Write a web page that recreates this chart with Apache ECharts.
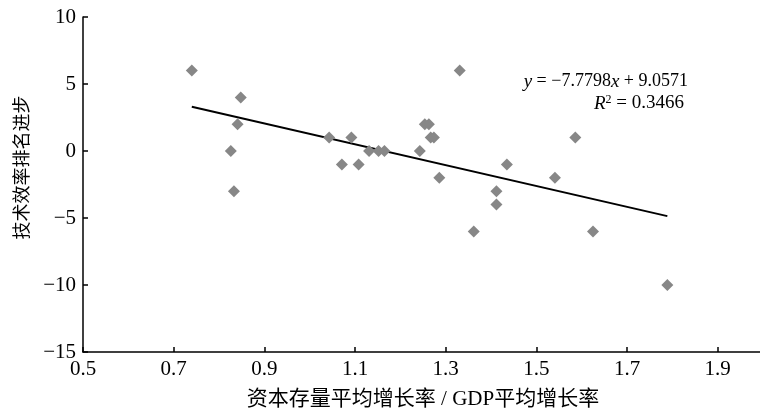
<!DOCTYPE html>
<html>
<head>
<meta charset="utf-8">
<script src="https://cdn.jsdelivr.net/npm/echarts@6/dist/echarts.min.js"></script>
<style>
  html, body { margin: 0; padding: 0; background: #fff; }
  #main { width: 760px; height: 411px; }
</style>
</head>
<body>
<div id="main"></div>
<script>
// 资本存量平均增长率 / GDP平均增长率
var ratioX = [0.740, 0.848, 0.841, 0.826, 0.833, 1.043, 1.092, 1.071, 1.108, 1.131,
              1.152, 1.165, 1.243, 1.254, 1.263, 1.267, 1.274, 1.286, 1.331, 1.362,
              1.412, 1.412, 1.435, 1.541, 1.586, 1.625, 1.789];
// 技术效率排名进步
var rankUp = [6, 4, 2, 0, -3, 1, 1, -1, -1, 0,
              0, 0, 0, 2, 2, 1, 1, -2, 6, -6,
              -3, -4, -1, -2, 1, -6, -10];
// 趋势线 y = a*x + b
var slope = -7.7798;
var intercept = 9.0571;
var r2 = 0.3466;

(function () {
    var myChart = echarts.init(document.getElementById('main'));
    var pts = ratioX.map(function (x, i) { return [x, rankUp[i]]; });
    var xMin = Math.min.apply(null, ratioX);
    var xMax = Math.max.apply(null, ratioX);
    var trend = [[xMin, slope * xMin + intercept], [xMax, slope * xMax + intercept]];
    var serif = '"Liberation Serif", "Times New Roman", serif';
    var cjk = '"Liberation Serif", "Noto Sans CJK SC", serif';

    myChart.setOption({
        animation: false,
        grid: { left: 83, right: -3, top: 17, bottom: 59, outerBoundsMode: 'none', containLabel: false },
        xAxis: {
            type: 'value',
            min: 0.5,
            max: 2.0,
            interval: 0.2,
            name: '资本存量平均增长率 / GDP平均增长率',
            nameLocation: 'middle',
            nameGap: 37,
            nameTextStyle: { color: '#000', fontFamily: cjk, fontSize: 21 },
            axisLine: { onZero: false, lineStyle: { color: '#000', width: 1.5 } },
            axisTick: { inside: true, length: 5, lineStyle: { color: '#000', width: 1.5 } },
            axisLabel: {
                color: '#000', fontFamily: serif, fontSize: 21, margin: 7,
                showMaxLabel: false,
                formatter: function (v) { return v.toFixed(1); }
            },
            splitLine: { show: false }
        },
        yAxis: {
            type: 'value',
            min: -15,
            max: 10,
            interval: 5,
            name: '技术效率排名进步',
            nameLocation: 'middle',
            nameGap: 42,
            nameTextStyle: { color: '#000', fontFamily: cjk, fontSize: 18, padding: [0, 0, 0, 34] },
            axisLine: { show: true, onZero: false, lineStyle: { color: '#000', width: 1.5 } },
            axisTick: { show: true, inside: true, length: 5, lineStyle: { color: '#000', width: 1.5 } },
            axisLabel: {
                color: '#000', fontFamily: serif, fontSize: 21, margin: 7,
                formatter: function (v) { return String(v).replace('-', '\u2212'); }
            },
            splitLine: { show: false }
        },
        graphic: [{
            type: 'text',
            right: 72,
            top: 72,
            style: {
                text: '{i|y} = \u22127.7798{i|x} + ' + intercept.toFixed(4),
                fill: '#000',
                font: '18px ' + serif,
                rich: { i: { fontStyle: 'italic', fontFamily: serif, fontSize: 19 } }
            }
        }, {
            type: 'text',
            right: 76,
            top: 94,
            style: {
                text: '{i|R}{s|2} = ' + r2.toFixed(4),
                fill: '#000',
                font: '19px ' + serif,
                rich: {
                    i: { fontStyle: 'italic', fontFamily: serif, fontSize: 19 },
                    s: { fontFamily: serif, fontSize: 12, lineHeight: 12, verticalAlign: 'top' }
                }
            }
        }],
        series: [{
            type: 'scatter',
            data: pts,
            symbol: 'diamond',
            symbolSize: 12,
            itemStyle: { color: '#878787', opacity: 1 }
        }, {
            type: 'line',
            data: trend,
            symbol: 'none',
            lineStyle: { color: '#000', width: 2 },
            z: 1
        }]
    });
})();
</script>
</body>
</html>
